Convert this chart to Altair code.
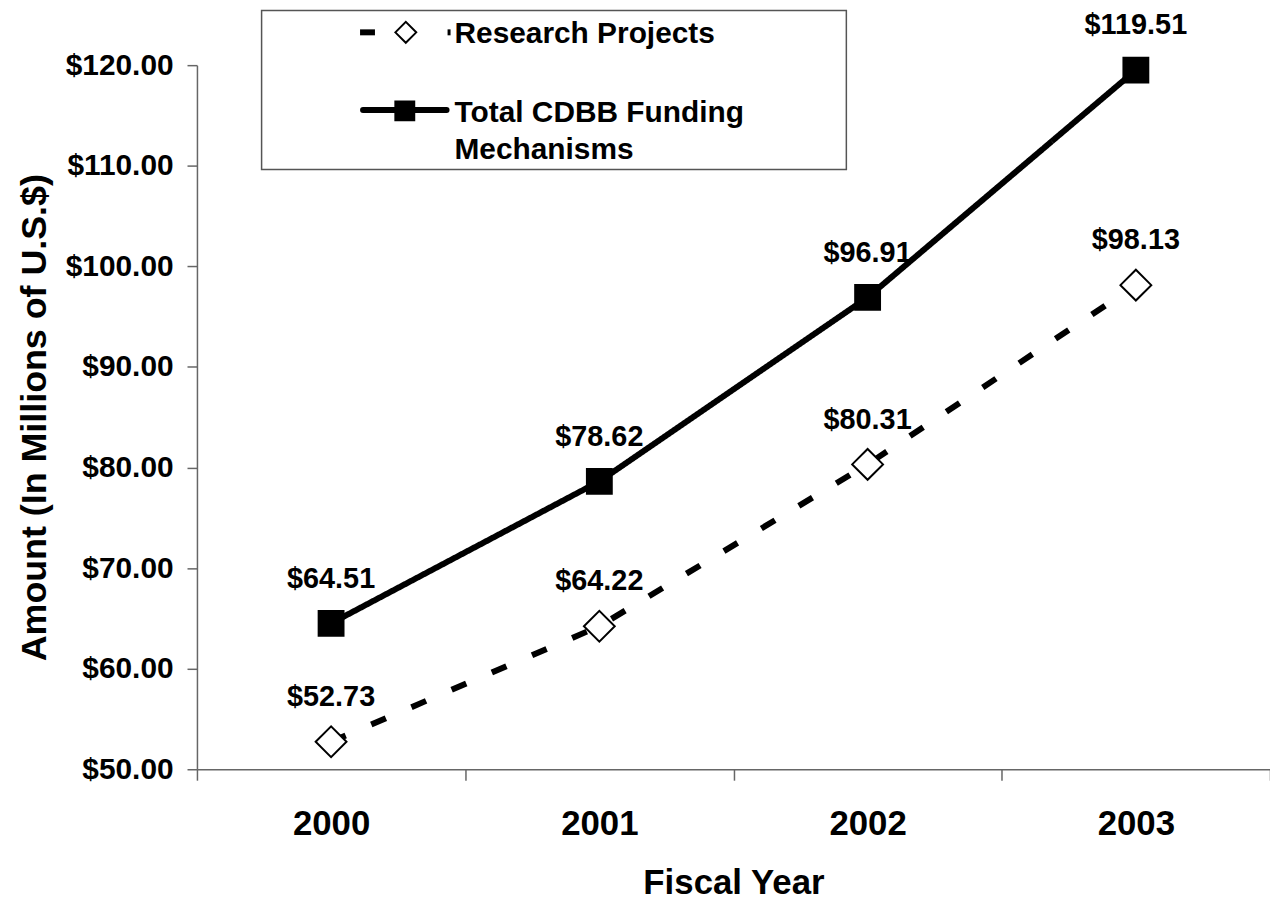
import altair as alt
import pandas as pd

years = ["2000", "2001", "2002", "2003"]
research = [52.73, 64.22, 80.31, 98.13]
total = [64.51, 78.62, 96.91, 119.51]
series_names = ["Research Projects", "Total CDBB Funding Mechanisms"]
legend_labels = ["Research Projects", "Total CDBB Funding\nMechanisms"]
y_ticks = [50, 60, 70, 80, 90, 100, 110, 120]

rows = []
for name, vals in zip(series_names, [research, total]):
    for yr, v in zip(years, vals):
        rows.append({"year": yr, "series": name, "value": v, "label": f"${v:.2f}"})
df = pd.DataFrame(rows)
leg_df = pd.DataFrame({"series": series_names, "text": legend_labels})

FONT = "Liberation Sans"

x_enc = alt.X(
    "year:O",
    scale=alt.Scale(type="band", domain=years, paddingInner=0, paddingOuter=0),
    axis=alt.Axis(
        title="Fiscal Year", labelAngle=0, tickBand="extent", tickSize=11,
        labelPadding=27, labelFontSize=35, titleFontSize=35, titlePadding=24,
        grid=False,
    ),
)
y_enc = alt.Y(
    "value:Q",
    scale=alt.Scale(domain=[50, 120], nice=False, zero=False),
    axis=alt.Axis(
        values=y_ticks, format="$.2f", title="Amount (In Millions of U.S.$)",
        tickSize=10, labelPadding=14, labelFontSize=30, titleFontSize=36,
        titlePadding=12, grid=False,
    ),
)

lines = alt.Chart(df).mark_line(strokeWidth=6, color="black").encode(
    x=x_enc,
    y=y_enc,
    strokeDash=alt.StrokeDash(
        "series:N",
        scale=alt.Scale(domain=series_names, range=[[16, 28], [1, 0]]),
        legend=None,
    ),
    detail="series:N",
)

pts_research = alt.Chart(df).transform_filter(
    alt.datum.series == series_names[0]
).mark_point(shape="diamond", filled=True, fill="white", stroke="black",
             strokeWidth=2, size=961, opacity=1).encode(x=x_enc, y=y_enc)

pts_total = alt.Chart(df).transform_filter(
    alt.datum.series == series_names[1]
).mark_point(shape="square", filled=True, fill="black", stroke="black",
             strokeWidth=2, size=625, opacity=1).encode(x=x_enc, y=y_enc)

texts = alt.Chart(df).mark_text(
    font=FONT, fontSize=29, fontWeight="bold", color="black", baseline="middle", dy=-45
).encode(x=x_enc, y=y_enc, text="label:N")

# ---- legend (drawn as a boxed key in the upper-left of the plot) ----
leg_r = alt.Chart(leg_df).transform_filter(alt.datum.series == series_names[0])
leg_t = alt.Chart(leg_df).transform_filter(alt.datum.series == series_names[1])

leg_box = alt.Chart(leg_df).transform_filter(alt.datum.series == series_names[0]).mark_rect(
    fill="white", stroke="#555555", strokeWidth=1.5
).encode(x=alt.value(65), x2=alt.value(653), y=alt.value(-55), y2=alt.value(105))

leg_r_dash1 = leg_r.mark_rule(color="black", strokeWidth=6).encode(
    x=alt.value(164), x2=alt.value(179), y=alt.value(-33))
leg_r_dash2 = leg_r.mark_rule(color="black", strokeWidth=6).encode(
    x=alt.value(252), x2=alt.value(255), y=alt.value(-33))
leg_r_sym = leg_r.mark_point(shape="diamond", filled=True, fill="white", stroke="black",
                             strokeWidth=2, size=441, opacity=1).encode(
    x=alt.value(210), y=alt.value(-33))
leg_r_text = leg_r.mark_text(font=FONT, fontSize=30, fontWeight="bold", color="black",
                             align="left", baseline="middle").encode(
    x=alt.value(259), y=alt.value(-31), text="text:N")

leg_t_line = leg_t.mark_rule(color="black", strokeWidth=6, strokeCap="round").encode(
    x=alt.value(167), x2=alt.value(251), y=alt.value(45))
leg_t_sym = leg_t.mark_point(shape="square", filled=True, fill="black", stroke="black",
                             strokeWidth=2, size=361, opacity=1).encode(
    x=alt.value(209), y=alt.value(46))
leg_t_text = leg_t.mark_text(font=FONT, fontSize=30, fontWeight="bold", color="black",
                             align="left", baseline="middle", lineBreak="\n",
                             lineHeight=37).encode(
    x=alt.value(259), y=alt.value(48), text="text:N")

chart = (
    alt.layer(lines, pts_research, pts_total, texts,
              leg_box, leg_r_dash1, leg_r_dash2, leg_r_sym, leg_r_text,
              leg_t_line, leg_t_sym, leg_t_text)
    .properties(
        width=1079, height=708, autosize="none",
        padding={"left": 190, "top": 55, "right": 0, "bottom": 130},
    )
    .configure_view(stroke=None)
    .configure_axis(
        domainColor="#666666", tickColor="#666666", domainWidth=1.5, tickWidth=1.5,
        labelFont=FONT, titleFont=FONT, labelFontWeight="bold", titleFontWeight="bold",
        labelColor="black", titleColor="black",
    )
)

chart.save("out.html", embed_options={"renderer": "svg", "actions": False})
